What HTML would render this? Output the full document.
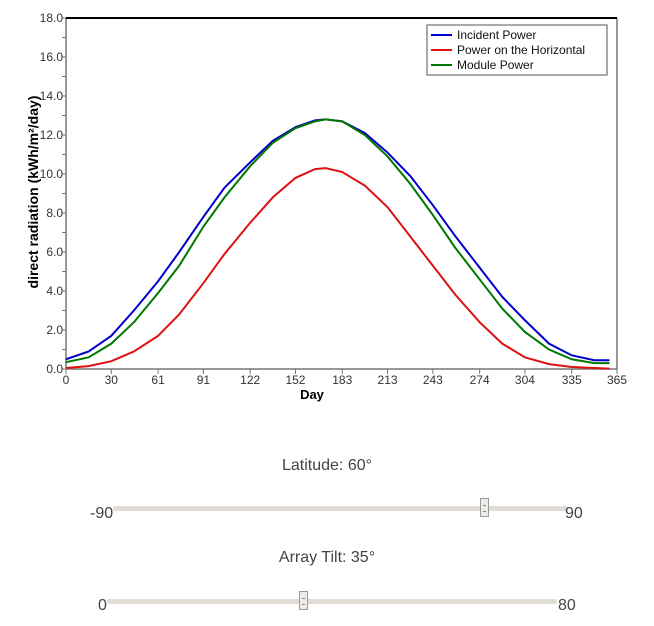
<!DOCTYPE html>
<html><head><meta charset="utf-8"><style>
body{margin:0;width:654px;height:626px;background:#fff;font-family:"Liberation Sans",sans-serif;position:relative;overflow:hidden}
.lbl{position:absolute;font-size:16px;color:#444;text-align:center}
.track{position:absolute;height:5px;background:#e1ddd6;border-radius:2px}
.handle{position:absolute;width:9px;height:19px;background:#eeece9;border:1px solid #999;box-sizing:border-box}
.handle:after{content:"";position:absolute;left:2px;top:6px;width:3px;height:5px;border-top:1px solid #888;border-bottom:1px solid #888}
.end{position:absolute;font-size:16px;color:#444}
</style></head><body>
<svg id="chart" width="654" height="420" style="position:absolute;left:0;top:0"></svg>
<div class="lbl" style="left:227px;top:457px;width:200px">Latitude: 60°</div>
<div class="end" style="left:90px;top:505px">-90</div>
<div class="track" style="left:113px;top:506px;width:455px"></div>
<div class="handle" style="left:480px;top:498px"></div>
<div class="end" style="left:565px;top:505px">90</div>
<div class="lbl" style="left:227px;top:549px;width:200px">Array Tilt: 35°</div>
<div class="end" style="left:98px;top:597px">0</div>
<div class="track" style="left:107px;top:599px;width:450px"></div>
<div class="handle" style="left:299px;top:591px"></div>
<div class="end" style="left:558px;top:597px">80</div>
<script>
const days=[0,15,30,45,61,75,91,105,122,137,152,165,172,183,198,213,228,243,258,274,289,304,320,335,350,360];
const incident=[0.5,0.9,1.7,3.0,4.5,6.0,7.8,9.3,10.6,11.7,12.4,12.75,12.8,12.7,12.1,11.1,9.9,8.4,6.8,5.2,3.7,2.5,1.3,0.7,0.45,0.45];
const module_=[0.35,0.6,1.3,2.4,3.9,5.3,7.3,8.8,10.4,11.6,12.35,12.7,12.8,12.7,12.0,10.9,9.5,7.9,6.2,4.6,3.1,1.9,1.0,0.5,0.3,0.3];
const horizontal=[0.05,0.15,0.4,0.9,1.7,2.8,4.4,5.9,7.5,8.8,9.8,10.25,10.3,10.1,9.4,8.3,6.8,5.3,3.8,2.4,1.3,0.6,0.25,0.1,0.05,0.02];
const xTicks=[0,30,61,91,122,152,183,213,243,274,304,335,365];
const yTicks=[0,2,4,6,8,10,12,14,16,18];
const seriesNames=["Incident Power","Power on the Horizontal","Module Power"];
const seriesColors=["#0000cc","#dd1111","#007700"];
const L=66,R=617,T=18,B=369;
const xs=d=>L+d/365*(R-L), ys=v=>B-v/18*(B-T);
const svg=document.getElementById('chart');const NS="http://www.w3.org/2000/svg";
function mk(t,a,p){const e=document.createElementNS(NS,t);for(const k in a)e.setAttribute(k,a[k]);(p||svg).appendChild(e);return e;}
let e;
e=mk('line',{x1:L,y1:T,x2:L,y2:B,stroke:'#777','stroke-width':1.5});


e=mk('line',{x1:L,y1:B,x2:R,y2:B,stroke:'#777','stroke-width':1.5});


e=mk('line',{x1:R,y1:T,x2:R,y2:B,stroke:'#777','stroke-width':1.5});


e=mk('line',{x1:L,y1:T,x2:R,y2:T,stroke:'#000','stroke-width':2});


for(let v=0;v<=18;v++){mk('line',{x1:L-4,y1:ys(v),x2:L,y2:ys(v),stroke:'#777'});}
yTicks.forEach(v=>{e=mk('text',{x:L-3,y:ys(v)+4,'text-anchor':'end','font-size':12,fill:'#333','font-family':'Liberation Sans'});e.textContent=v.toFixed(1);

});
xTicks.forEach(d=>{mk('line',{x1:xs(d),y1:B,x2:xs(d),y2:B+5,stroke:'#777'});e=mk('text',{x:xs(d),y:B+15,'text-anchor':'middle','font-size':12,fill:'#333','font-family':'Liberation Sans'});e.textContent=d;

});
e=mk('text',{x:312,y:399,'text-anchor':'middle','font-size':13,'font-weight':'bold','font-family':'Liberation Sans'});e.textContent='Day';


e=mk('text',{transform:'translate(38,192) rotate(-90)','text-anchor':'middle','font-size':14,'font-weight':'bold','font-family':'Liberation Sans'});e.innerHTML='direct radiation (kWh/m²/day)';


[incident,horizontal,module_].forEach((s,i)=>{e=mk('polyline',{points:s.map((v,j)=>xs(days[j])+','+ys(v)).join(' '),fill:'none',stroke:seriesColors[i],'stroke-width':2});

});
e=mk('rect',{x:427,y:25,width:180,height:50,fill:'#fff',stroke:'#555'});


seriesNames.forEach((n,i)=>{const y=35+i*15;mk('line',{x1:431,y1:y,x2:452,y2:y,stroke:seriesColors[i],'stroke-width':2});e=mk('text',{x:457,y:y+4,'font-size':12,fill:'#111','font-family':'Liberation Sans'});e.textContent=n;

});
</script>
</body></html>
